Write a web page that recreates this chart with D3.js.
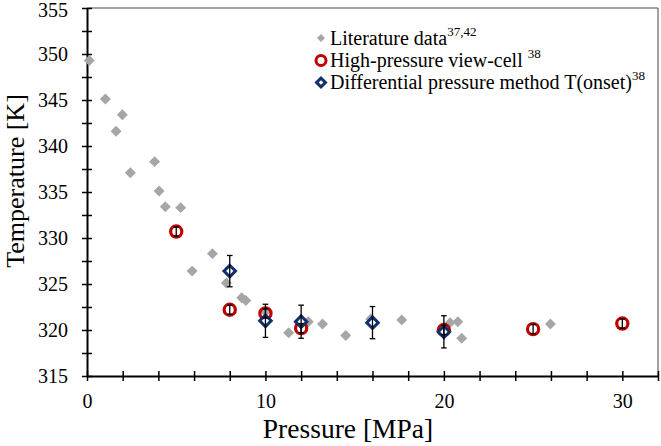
<!DOCTYPE html>
<html><head><meta charset="utf-8">
<script src="https://cdn.jsdelivr.net/npm/d3@7"></script>
<style>
html,body{margin:0;padding:0;background:#fff;}
svg{display:block;font-family:"Liberation Serif","Times New Roman",serif;}
</style></head>
<body>
<svg id="chart" width="661" height="446"></svg>
<script>
// Literature data (gray diamonds)
const litP = [0.13,1.03,1.63,1.98,2.43,3.79,4.04,4.39,5.25,5.89,7.03,7.81,8.67,8.9,10.0,11.3,12.4,13.2,14.5,15.9,17.64,20.35,20.78,21.0,25.97];
const litT = [349.3,345.1,341.6,343.4,337.1,338.3,335.1,333.4,333.3,326.4,328.3,325.1,323.5,323.2,322.0,319.7,320.9,320.65,319.4,321.2,321.1,320.8,320.9,319.1,320.65];
// High-pressure view-cell (red circles)
const vcP = [5,8,10,12,20,25,30];
const vcT = [330.7,322.2,321.8,320.2,320.0,320.1,320.7];
const vcErr = [0.5,0.5,0.5,0.5,0.5,0.5,0.5];
// Differential pressure method T(onset) (blue diamonds)
const dpP = [8,10,12,16,20];
const dpT = [326.4,321.0,320.9,320.8,319.8];
const dpErr = [1.7,1.8,1.8,1.75,1.75];
// Axes
const xDomain = [0,32];
const yDomain = [315,355];
const xTicks = d3.range(0,33,2);
const yTicks = d3.range(315,355.1,2.5);
const xLabels = [0,10,20,30];
const yLabels = [315,320,325,330,335,340,345,350,355];
const legendItems = [
  {name:"Literature data", sup:"37,42"},
  {name:"High-pressure view-cell ", sup:"38"},
  {name:"Differential pressure method T(onset)", sup:"38"}
];

const GRAY="#a6a6a6", RED="#c00000", BLUE="#13306b";
const FONT='"Liberation Serif","Times New Roman",serif';
const svg = d3.select("#chart");
const x = d3.scaleLinear().domain(xDomain).range([87,658]);
const y = d3.scaleLinear().domain(yDomain).range([376,8]);

// frame top/right
svg.append("path").attr("d",`M${x(0)},${y(355)}H${x(32)}V${y(315)}`)
  .attr("fill","none").attr("stroke","#444").attr("stroke-width",1);

// axes
const xAxis = svg.append("g").attr("transform",`translate(0,${y(315)})`)
  .call(d3.axisBottom(x).tickValues(xTicks).tickSizeInner(5).tickSizeOuter(0).tickPadding(13)
    .tickFormat(d=>xLabels.includes(d)?d:""));
xAxis.selectAll(".tick line").attr("y1",-5).attr("y2",5).attr("stroke","#000").attr("stroke-width",1.5);
xAxis.select(".domain").attr("stroke","#000").attr("stroke-width",2);
xAxis.selectAll("text").attr("font-size",20).attr("fill","#000").attr("font-family",FONT);

const yAxis = svg.append("g").attr("transform",`translate(${x(0)},0)`)
  .call(d3.axisLeft(y).tickValues(yTicks).tickSizeInner(5).tickSizeOuter(0).tickPadding(14)
    .tickFormat(d=>yLabels.includes(d)?d:""));
yAxis.selectAll(".tick line").attr("x1",5).attr("x2",-5).attr("stroke","#000").attr("stroke-width",1.5);
yAxis.select(".domain").attr("stroke","#000").attr("stroke-width",2);
yAxis.selectAll("text").attr("font-size",20).attr("fill","#000").attr("font-family",FONT);
// keep top label inside the picture
yAxis.selectAll(".tick").filter(d=>d===355).select("text").attr("dy","0.4em");

// titles
svg.append("text").attr("x",348).attr("y",438).attr("text-anchor","middle")
  .attr("font-size",27.5).text("Pressure [MPa]");
svg.append("text").attr("transform","translate(23.5,181) rotate(-90)").attr("text-anchor","middle")
  .attr("font-size",26).text("Temperature [K]");

const diamond = area => d3.symbol(d3.symbolSquare, area);

// literature
svg.append("g").selectAll("path").data(litP.map((p,i)=>[p,litT[i]])).join("path")
  .attr("d",diamond(60)())
  .attr("transform",d=>`translate(${x(d[0])},${y(d[1])}) rotate(45)`)
  .attr("fill",GRAY);

// view-cell circles
const vc = vcP.map((p,i)=>({p,t:vcT[i],e:vcErr[i]}));
svg.append("g").selectAll("circle").data(vc).join("circle")
  .attr("cx",d=>x(d.p)).attr("cy",d=>y(d.t)).attr("r",5.6)
  .attr("fill","none").attr("stroke",RED).attr("stroke-width",3.2);

// diff pressure diamonds
const dp = dpP.map((p,i)=>({p,t:dpT[i],e:dpErr[i]}));
svg.append("g").selectAll("path").data(dp).join("path")
  .attr("d",diamond(66)())
  .attr("transform",d=>`translate(${x(d.p)},${y(d.t)}) rotate(45)`)
  .attr("fill","#fff").attr("stroke",BLUE).attr("stroke-width",3);

// error bars
function errBars(data){
  const g = svg.append("g").attr("stroke","#000").attr("stroke-width",1.3);
  data.forEach(d=>{
    const cx=x(d.p), y1=y(d.t+d.e), y2=y(d.t-d.e);
    g.append("line").attr("x1",cx).attr("x2",cx).attr("y1",y1).attr("y2",y2);
    g.append("line").attr("x1",cx-2.8).attr("x2",cx+2.8).attr("y1",y1).attr("y2",y1);
    g.append("line").attr("x1",cx-2.8).attr("x2",cx+2.8).attr("y1",y2).attr("y2",y2);
  });
}
errBars(vc);
errBars(dp);

// legend
const lg = svg.append("g");
const rowsY = [45,67,89];
legendItems.forEach((it,i)=>{
  const t = lg.append("text").attr("x",330).attr("y",rowsY[i]).attr("font-size",20).attr("fill","#000");
  t.append("tspan").text(it.name);
  t.append("tspan").attr("font-size",13).attr("dy",-9).text(it.sup);
});
lg.append("path").attr("d",diamond(32)()).attr("transform",`translate(321,${rowsY[0]-7}) rotate(45)`).attr("fill",GRAY);
lg.append("circle").attr("cx",321).attr("cy",rowsY[1]-6.5).attr("r",5).attr("fill","none").attr("stroke",RED).attr("stroke-width",3);
lg.append("path").attr("d",diamond(40)()).attr("transform",`translate(321,${rowsY[2]-6.5}) rotate(45)`).attr("fill","#fff").attr("stroke",BLUE).attr("stroke-width",3);
</script>
</body></html>
